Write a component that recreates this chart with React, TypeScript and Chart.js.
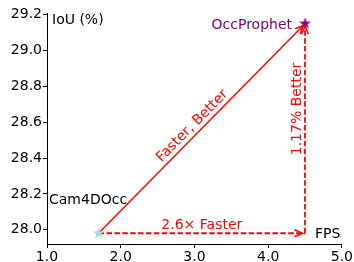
import React, { useEffect, useRef } from "react";
import { Chart, registerables } from "chart.js";

Chart.register(...registerables);

const methods = ["Cam4DOcc", "OccProphet"];
const fpsValues = [1.7, 4.5];
const iouValues = [27.98, 29.15];
const xTicks = [1.0, 2.0, 3.0, 4.0, 5.0];
const yTicks = [28.0, 28.2, 28.4, 28.6, 28.8, 29.0, 29.2];
const speedLabel = "2.6× Faster";
const gainLabel = "1.17% Better";
const overallLabel = "Faster, Better";
const xTitle = "FPS";
const yTitle = "IoU (%)";

const FONT = "'DejaVu Sans', sans-serif";
const RED = "#ff0000";
const PURPLE = "#800080";
const BLUE = "#add8e6";

function makeStar(color: string, r: number): HTMLCanvasElement {
  const size = Math.ceil(r * 2 + 2);
  const c = document.createElement("canvas");
  c.width = size;
  c.height = size;
  const g = c.getContext("2d")!;
  const cx = size / 2;
  const cy = size / 2;
  const inner = r * 0.381966;
  g.beginPath();
  for (let i = 0; i < 10; i++) {
    const rad = i % 2 === 0 ? r : inner;
    const a = -Math.PI / 2 + (i * Math.PI) / 5;
    const px = cx + rad * Math.cos(a);
    const py = cy + rad * Math.sin(a);
    if (i === 0) g.moveTo(px, py);
    else g.lineTo(px, py);
  }
  g.closePath();
  g.fillStyle = color;
  g.fill();
  return c;
}

function arrowHead(ctx: CanvasRenderingContext2D, x1: number, y1: number, x2: number, y2: number) {
  const ang = Math.atan2(y2 - y1, x2 - x1);
  const shrink = 2.5;
  const tx = x2 - shrink * Math.cos(ang);
  const ty = y2 - shrink * Math.sin(ang);
  const len = 8;
  const w = 3.5;
  const bx = tx - len * Math.cos(ang);
  const by = ty - len * Math.sin(ang);
  const nx = -Math.sin(ang);
  const ny = Math.cos(ang);
  ctx.save();
  ctx.setLineDash([]);
  ctx.strokeStyle = RED;
  ctx.lineWidth = 1.5;
  ctx.beginPath();
  ctx.moveTo(bx + nx * w, by + ny * w);
  ctx.lineTo(tx, ty);
  ctx.lineTo(bx - nx * w, by - ny * w);
  ctx.stroke();
  ctx.restore();
}

const annotPlugin = {
  id: "annot",
  afterDatasetsDraw(chart: any) {
    const { ctx, scales, chartArea } = chart;
    const xs = scales.x;
    const ys = scales.y;
    const p0x = xs.getPixelForValue(fpsValues[0]);
    const p0y = ys.getPixelForValue(iouValues[0]);
    const p1x = xs.getPixelForValue(fpsValues[1]);
    const p1y = ys.getPixelForValue(iouValues[1]);

    arrowHead(ctx, p0x, p0y, p1x, p1y);
    arrowHead(ctx, p0x, p0y, p1x, p0y);
    arrowHead(ctx, p1x, p0y, p1x, p1y);

    ctx.save();
    ctx.font = `14px ${FONT}`;
    ctx.textBaseline = "alphabetic";

    ctx.fillStyle = "#000000";
    ctx.textAlign = "left";
    ctx.fillText(yTitle, chartArea.left + 5, ys.getPixelForValue(yTicks[yTicks.length - 1]) + 9);
    ctx.fillText(xTitle, p1x + 10, p0y + 5);
    ctx.fillText(methods[0], chartArea.left + 2, p0y - 29);

    ctx.fillStyle = PURPLE;
    ctx.textAlign = "right";
    ctx.fillText(methods[1], p1x - 13, p1y + 5);

    ctx.fillStyle = RED;
    ctx.textAlign = "center";
    ctx.fillText(speedLabel, (p0x + p1x) / 2, p0y - 4);

    const mx = (p0x + p1x) / 2;
    const my = (p0y + p1y) / 2;
    const ang = Math.atan2(p1y - p0y, p1x - p0x);
    ctx.save();
    ctx.translate(mx - 9.5, my - 2.5);
    ctx.rotate(ang);
    ctx.textBaseline = "middle";
    ctx.fillText(overallLabel, 0, 0);
    ctx.restore();

    ctx.save();
    ctx.translate(p1x - 7.5, my - 19.5);
    ctx.rotate(-Math.PI / 2);
    ctx.textBaseline = "middle";
    ctx.fillText(gainLabel, 0, 0);
    ctx.restore();

    ctx.restore();
  },
};

export default function App() {
  const ref = useRef<HTMLCanvasElement | null>(null);
  useEffect(() => {
    document.body.style.margin = "0";
    const canvas = ref.current!;
    const stars = [makeStar(BLUE, 6.5), makeStar(PURPLE, 6.5)];
    const chart = new Chart(canvas, {
      type: "scatter",
      data: {
        datasets: [
          {
            data: methods.map((_, i) => ({ x: fpsValues[i], y: iouValues[i] })),
            pointStyle: stars as any,
            pointRadius: 7,
            showLine: false,
          } as any,
          {
            data: [
              { x: fpsValues[0], y: iouValues[0] },
              { x: fpsValues[1], y: iouValues[1] },
            ],
            showLine: true,
            borderColor: RED,
            borderWidth: 1.5,
            pointRadius: 0,
          },
          {
            data: [
              { x: fpsValues[0], y: iouValues[0] },
              { x: fpsValues[1], y: iouValues[0] },
            ],
            showLine: true,
            borderColor: RED,
            borderWidth: 1.8,
            borderDash: [5.5, 2.4],
            pointRadius: 0,
          },
          {
            data: [
              { x: fpsValues[1], y: iouValues[0] },
              { x: fpsValues[1], y: iouValues[1] },
            ],
            showLine: true,
            borderColor: RED,
            borderWidth: 1.8,
            borderDash: [5.5, 2.4],
            pointRadius: 0,
          },
        ],
      },
      options: {
        animation: false,
        responsive: false,
        layout: { padding: { left: 0, right: 12, top: 13, bottom: 0 } },
        plugins: { legend: { display: false }, tooltip: { enabled: false } },
        scales: {
          x: {
            type: "linear",
            min: 1,
            max: 5,
            afterBuildTicks: (s: any) => {
              s.ticks = xTicks.map((v) => ({ value: v }));
            },
            afterFit: (s: any) => {
              s.height = 18;
            },
            grid: { drawOnChartArea: false, drawTicks: true, tickLength: 4, color: "#000", tickWidth: 1 },
            border: { display: true, color: "#000", width: 1 },
            ticks: {
              color: "#000",
              font: { family: FONT, size: 14 },
              padding: 1,
              maxRotation: 0,
              autoSkip: false,
              callback: (v: any) => Number(v).toFixed(1),
            },
          },
          y: {
            type: "linear",
            min: 27.92,
            max: 29.21,
            afterBuildTicks: (s: any) => {
              s.ticks = yTicks.map((v) => ({ value: v }));
            },
            afterFit: (s: any) => {
              s.width = 47;
            },
            grid: { drawOnChartArea: false, drawTicks: true, tickLength: 4, color: "#000", tickWidth: 1 },
            border: { display: true, color: "#000", width: 1 },
            ticks: {
              color: "#000",
              font: { family: FONT, size: 14 },
              padding: 1,
              autoSkip: false,
              callback: (v: any) => Number(v).toFixed(1),
            },
          },
        },
      },
      plugins: [annotPlugin],
    });
    return () => chart.destroy();
  }, []);
  return (
    <div style={{ width: 354, height: 262 }}>
      <canvas ref={ref} width={354} height={262} />
    </div>
  );
}
